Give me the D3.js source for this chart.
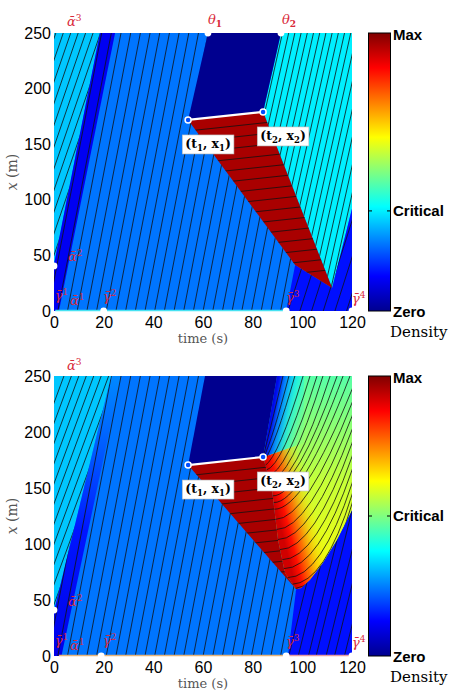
<!DOCTYPE html>
<html>
<head>
<meta charset="utf-8">
<script src="https://cdn.jsdelivr.net/npm/d3@7/dist/d3.min.js"></script>
<style>
  body { margin: 0; background: #fff; }
  svg { display: block; }
</style>
</head>
<body>
<svg id="chart"></svg>
<script>
// ---------- data (time in s, position x in m, density as a fraction of the colormap) ----------
const timeTicks = [0, 20, 40, 60, 80, 100, 120];
const posTicks = [0, 50, 100, 150, 200, 250];

// MATLAB "jet"
const jetStops = [0, 0.125, 0.375, 0.625, 0.875, 1];
const jetColors = ["#00008f", "#0000ff", "#00ffff", "#ffff00", "#ff0000", "#800000"];
const barLabels = ["Max", "Critical", "Zero"];
const criticalLevels = [0.36, 0.5]; // top bar, bottom bar

// densities of the flat regions
const freeDensity = 0.32, stripDensity = 0.11, mediumDensity = 0.24;
const navyDensity = 0, jamDensity = 0.96, cyanDensity = 0.36, blueDensity = 0.14;

// top panel regions [t, x]
const topFree = [[0, 42], [0, 250], [18.5, 250]];
const topStrip = [[0, 0], [0, 42], [18.5, 250], [24.6, 250], [2, 0]];
const topMedium = [[0, 0], [0, 42], [18.5, 250], [62, 250], [54, 171.8], [97.1, 41.4], [93.5, 0]];
const topNavy = [[62, 250], [54, 171.8], [84.2, 179], [91.4, 250]];
const topJam = [[54, 171.8], [84.2, 179], [112, 20.7], [97.1, 41.4]];
const topCyan = [[91.4, 250], [84.2, 179], [112, 20.7], [120, 92], [120, 250]];
const topBlue = [[93.5, 0], [97.1, 41.4], [112, 20.7], [120, 92], [120, 0]];

// bottom panel regions [t, x]
const botFree = [[0, 40], [0, 250], [23, 250]];
const botStrip = [[0, 0], [0, 40], [23, 250], [27, 250], [3, 0]];
const botMedium = [[0, 0], [0, 40], [23, 250], [60.8, 250], [54, 170.5], [97.5, 59.5], [94.2, 0]];
const botNavy = [[60.8, 250], [54, 170.5], [84.2, 177.7], [89.8, 250]];
const botJam = [[54, 170.5], [84.2, 177.7], [87.8, 148], [90.2, 103.6], [93, 74], [97.5, 59.5]];
const botFan = [[84.2, 177.7], [89.8, 250], [120, 250], [120, 130], [114, 103.6], [108.3, 83],
  [103.1, 67.9], [99.5, 60.5], [97.5, 59.5], [93, 74], [90.2, 103.6], [87.8, 148]];
const botBlue = [[94.2, 0], [97.5, 59.5], [99.5, 60.5], [103.1, 67.9], [108.3, 83], [114, 103.6], [120, 130], [120, 0]];
// the fan split into the part above and below the ray leaving (t2, x2)
const fanUpper = [[84.2, 177.7], [89.8, 250], [120, 250], [120, 205]];
const fanLower = [[84.2, 177.7], [120, 205], [120, 130], [114, 103.6], [108.3, 83],
  [103.1, 67.9], [99.5, 60.5], [97.5, 59.5], [93, 74], [90.2, 103.6], [87.8, 148]];

// fan colouring (bottom panel)
const fanBaseStops = [0.46, 0.57, 0.63];                 // top -> lower end of fan
const fanJamStops = [[0, 0.92, 1], [0.2, 0.86, 1], [0.45, 0.78, 0.85], [0.75, 0.7, 0.4], [1, 0.65, 0]];
// soft bands along the navy edge: [density, width px, blur px, opacity]
const fanNavyBands = [[0.36, 50, 8, 0.8], [0.24, 26, 5, 1], [0.1, 10, 2.5, 1]];

// characteristic lines: t where a line leaves x = 0 (or x at t = 54 for jam lines)
const freeStarts = [-38.5, -35.5, -32.5, -29.5, -26.5, -23.5, -20.5, -17.5, -14.5, -11.5, -8.5];
const mediumStarts = [-2.8, 1.1, 5.0, 8.9, 12.8, 16.7, 20.6, 24.5, 28.4, 32.3, 36.2, 40.1, 44, 47.9,
  51.8, 55.7, 59.6, 63.5, 67.4, 71.3, 75.2, 79.1, 83, 86.9, 90.8];
const cyanStarts = [66.5, 69, 71.5, 74, 76.5, 79, 81.5, 84, 86.5, 89, 91.5, 94, 96.5, 99, 101.5, 104, 106.5, 109];
const blueStartsTop = [88.8, 93.5, 98.3, 103, 107.7, 112.4, 117.1];
const blueStartsBot = [90, 94, 97.8, 101.9, 105, 109, 112.4, 116.4];
const jamStartsTop = [161.9, 152, 142.1, 132.2, 122.3, 112.4, 102.5, 92.6, 82.7, 72.8, 62.9, 53, 43.1, 33.2, 23.3];
const jamStartsBot = [161, 151.5, 142, 132.5, 123, 113.5, 104, 94.5, 85, 75.5, 66];
// fan curves: start, bend, end  [ts, xs, tc, xc, te, xe]
const fanCurves = [
  [84.3, 178.5, 86.8, 200, 92.2, 250], [84.4, 177, 88, 194, 94.6, 250],
  [84.6, 174, 89, 188, 97, 250], [85, 170, 90.5, 178, 100.3, 250],
  [85.5, 166, 92, 170, 103.1, 250], [86, 161, 93.5, 162, 105.9, 250],
  [86.5, 157, 95, 155, 108.3, 250], [87, 153, 96.5, 150, 111.2, 250],
  [87.6, 149, 97.5, 147, 114, 250], [88, 143, 98.5, 142, 116.4, 250],
  [88.4, 137, 99.5, 136, 119.2, 250], [88.7, 131, 100.5, 131, 120, 238],
  [89.2, 122, 101.5, 122, 120, 226], [89.7, 113, 102.5, 113, 120, 214],
  [90.2, 104, 103.5, 104, 120, 202], [91, 95, 104.5, 95, 120, 190],
  [91.9, 86, 105.5, 86, 120, 178], [92.6, 78, 106.5, 78, 120, 166],
  [94.1, 70, 107.5, 70, 120, 154], [95.8, 64, 109, 65, 120, 144],
  [96.9, 60, 111, 66, 120, 136]
];

// boundary markers, end points, labels
const topDots = [[0, 40.5], [20, 0], [93.5, 0], [62, 250], [91.4, 250], [120, 0]];
const botDots = [[0, 41], [19, 0], [93.5, 0], [120, 0]];
const topEnds = [[54, 171.8], [84.2, 179]];
const botEnds = [[54, 170.5], [84.2, 177.7]];
const endLabels = ["1", "2"];
// [base, bar, script, subscript?, t, x]
const topNotes = [["α", true, "3", false, 5.2, 256], ["θ", false, "1", true, 62, 257.7], ["θ", false, "2", true, 91.8, 257.7],
  ["γ", true, "1", false, 0.3, 9.5], ["α", true, "1", false, 6.4, 5], ["α", true, "2", false, 5.6, 45],
  ["γ", true, "2", false, 19.7, 9], ["γ", true, "3", false, 93.4, 8], ["γ", true, "4", false, 120, 7]];
const botNotes = [["α", true, "3", false, 5.2, 255.4], ["γ", true, "1", false, 0.3, 9.5], ["α", true, "1", false, 6.4, 5],
  ["α", true, "2", false, 5.6, 44.6], ["γ", true, "2", false, 19.7, 9.8], ["γ", true, "3", false, 93.4, 8.9],
  ["γ", true, "4", false, 120, 8]];

// ---------- drawing ----------
const svg = d3.select("#chart").attr("width", 452).attr("height", 692);
const defs = svg.append("defs");
const jet = d3.scaleLinear().domain(jetStops).range(jetColors).clamp(true);
const tScale = d3.scaleLinear().domain([0, 120]).range([54, 352]);
const sansFont = "'Liberation Sans', Arial, sans-serif";
const serifFont = "'DejaVu Serif', serif";

const panels = [
  { id: "top", y0: 33, y1: 311, critical: criticalLevels[0], dots: topDots, ends: topEnds, notes: topNotes,
    regions: [[topFree, freeDensity], [topStrip, stripDensity], [topCyan, cyanDensity], [topBlue, blueDensity],
      [topNavy, navyDensity], [topJam, jamDensity]],
    families: [[topFree, "fwd", 6.5, freeStarts], [topMedium, "fwd", 11.6, mediumStarts], [topCyan, "fwd", 10, cyanStarts],
      [topBlue, "fwd", 7, blueStartsTop], [topJam, "jam", 0.24, jamStartsTop]],
    edge: [[0.5, 93, "#46e2f2"]] },
  { id: "bot", y0: 376, y1: 656, critical: criticalLevels[1], dots: botDots, ends: botEnds, notes: botNotes,
    regions: [[botFree, freeDensity], [botStrip, null], [botFan, null], [botBlue, blueDensity],
      [botNavy, navyDensity], [botJam, jamDensity]],
    families: [[botFree, "fwd", 6, freeStarts], [botMedium, "fwd", 11.6, mediumStarts],
      [botBlue, "fwd", 9, blueStartsBot], [botJam, "jam", 0.24, jamStartsBot]],
    edge: [[2, 93, "#e6b47a"], [94.5, 120, "#e79aa0"]] }
];

panels.forEach(drawPanel);

function drawPanel(p) {
  const xScale = d3.scaleLinear().domain([0, 250]).range([p.y1, p.y0]);
  const px = d => [tScale(d[0]), xScale(d[1])];
  const poly = pts => pts.map(d => px(d).join(",")).join(" ");
  const line = d3.line().x(d => tScale(d[0])).y(d => xScale(d[1]));

  const g = svg.append("g");

  defs.append("clipPath").attr("id", p.id + "-plot").append("rect")
    .attr("x", tScale(0)).attr("y", p.y0)
    .attr("width", tScale(120) - tScale(0)).attr("height", p.y1 - p.y0);
  const plot = g.append("g").attr("clip-path", "url(#" + p.id + "-plot)");

  plot.append("rect")
    .attr("x", tScale(0)).attr("y", p.y0)
    .attr("width", tScale(120) - tScale(0)).attr("height", p.y1 - p.y0)
    .attr("fill", jet(mediumDensity));

  // gradient perpendicular to an edge, starting on it
  function edgeGrad(id, a, b, len, stops) {
    const A = px(a), B = px(b);
    const L = Math.hypot(B[0] - A[0], B[1] - A[1]);
    const n = [(B[1] - A[1]) / L, -(B[0] - A[0]) / L];
    const gr = defs.append("linearGradient").attr("id", id)
      .attr("gradientUnits", "userSpaceOnUse")
      .attr("x1", A[0]).attr("y1", A[1])
      .attr("x2", A[0] + n[0] * len).attr("y2", A[1] + n[1] * len);
    stops.forEach(s => gr.append("stop").attr("offset", s[0])
      .attr("stop-color", jet(s[1])).attr("stop-opacity", s[2]));
  }

  // bottom panel gradients
  if (p.id === "bot") {
    const sg = defs.append("linearGradient").attr("id", "stripGrad")
      .attr("gradientUnits", "userSpaceOnUse")
      .attr("x1", 0).attr("x2", 0).attr("y1", xScale(0)).attr("y2", xScale(250));
    sg.append("stop").attr("offset", 0).attr("stop-color", jet(0.1)).attr("stop-opacity", 1);
    sg.append("stop").attr("offset", 0.45).attr("stop-color", jet(0.13)).attr("stop-opacity", 0.85);
    sg.append("stop").attr("offset", 1).attr("stop-color", jet(0.27)).attr("stop-opacity", 0.6);

    const fb = defs.append("linearGradient").attr("id", "fanBase")
      .attr("gradientUnits", "userSpaceOnUse")
      .attr("x1", 0).attr("x2", 0).attr("y1", xScale(250)).attr("y2", xScale(60));
    fanBaseStops.forEach((d, i) => fb.append("stop")
      .attr("offset", i / (fanBaseStops.length - 1)).attr("stop-color", jet(d)));

    edgeGrad("fanJam", botJam[1], botJam[5], 38, fanJamStops);

    fanNavyBands.forEach((b, i) => {
      defs.append("filter").attr("id", "soft" + i)
        .attr("x", "-100%").attr("y", "-100%").attr("width", "300%").attr("height", "300%")
        .append("feGaussianBlur").attr("stdDeviation", b[2]);
    });
    defs.append("clipPath").attr("id", "fanUpperClip").append("polygon").attr("points", poly(fanUpper));
  }

  p.regions.forEach(r => {
    let fill = r[1] === null ? null : jet(r[1]);
    if (r[0] === botStrip) fill = "url(#stripGrad)";
    if (r[0] === botFan) fill = "url(#fanBase)";
    plot.append("polygon").attr("points", poly(r[0])).attr("fill", fill);
    if (r[0] === botFan) {
      plot.append("polygon").attr("points", poly(fanLower)).attr("fill", "url(#fanJam)");
      // soft blue -> cyan rim along the navy edge
      const A = px(botNavy[2]), B = px(botNavy[3]);
      const rim = plot.append("g").attr("clip-path", "url(#fanUpperClip)");
      fanNavyBands.forEach((b, i) => {
        rim.append("line")
          .attr("x1", A[0] - (B[0] - A[0]) * 0.3).attr("y1", A[1] - (B[1] - A[1]) * 0.3)
          .attr("x2", B[0] + (B[0] - A[0]) * 0.3).attr("y2", B[1] + (B[1] - A[1]) * 0.3)
          .attr("stroke", jet(b[0])).attr("stroke-width", b[1]).attr("stroke-opacity", b[3])
          .attr("filter", "url(#soft" + i + ")");
      });
    }
  });

  // characteristic lines, each family clipped to its region
  p.families.forEach((f, i) => {
    const cid = p.id + "-fam" + i;
    defs.append("clipPath").attr("id", cid).append("polygon").attr("points", poly(f[0]));
    const v = f[2];
    plot.append("g").attr("clip-path", "url(#" + cid + ")")
      .selectAll("path").data(f[3]).join("path")
      .attr("d", s => f[1] === "fwd"
        ? line([[s, -5], [s + 260 / v, 255]])
        : line([[30, s + v * (30 - 54)], [125, s + v * (125 - 54)]]))
      .attr("fill", "none").attr("stroke", "#111").attr("stroke-width", 0.8);
  });

  if (p.id === "bot") {
    defs.append("clipPath").attr("id", "fanClip").append("polygon").attr("points", poly(botFan));
    plot.append("g").attr("clip-path", "url(#fanClip)")
      .selectAll("path").data(fanCurves).join("path")
      .attr("d", c => {
        const S = px([c[0], c[1]]), C = px([c[2], c[3]]), E = px([c[4], c[5]]);
        const X = [E[0] + (E[0] - C[0]) * 0.3, E[1] + (E[1] - C[1]) * 0.3];
        return "M" + S + "Q" + C + " " + E + "L" + X;
      })
      .attr("fill", "none").attr("stroke", "#111").attr("stroke-width", 0.8);
  }

  // boundary condition along x = 0
  g.selectAll(".edge").data(p.edge).join("line")
    .attr("x1", d => tScale(d[0])).attr("x2", d => tScale(d[1]))
    .attr("y1", p.y1 - 0.5).attr("y2", p.y1 - 0.5)
    .attr("stroke", d => d[2]).attr("stroke-width", 1.5);

  // white boundary markers
  g.selectAll(".dot").data(p.dots).join("circle")
    .attr("cx", d => tScale(d[0])).attr("cy", d => xScale(d[1]))
    .attr("r", 3.4).attr("fill", "#fff");

  // segment between (t1,x1) and (t2,x2)
  g.append("path").attr("d", line(p.ends))
    .attr("stroke", "#fff").attr("stroke-width", 2.2).attr("fill", "none");
  g.selectAll(".end").data(p.ends).join("circle")
    .attr("cx", d => tScale(d[0])).attr("cy", d => xScale(d[1]))
    .attr("r", 3).attr("fill", jet(0.2)).attr("stroke", "#fff").attr("stroke-width", 1.5);

  // (t_i, x_i) labels in white boxes
  p.ends.forEach((d, i) => {
    const lg = g.append("g");
    const txt = lg.append("text")
      .attr("x", tScale(d[0]) + 20).attr("y", xScale(d[1]) + 28)
      .attr("text-anchor", "middle")
      .style("font-family", serifFont).style("font-size", "12.5px").style("font-weight", "bold");
    txt.append("tspan").text("(t");
    txt.append("tspan").attr("dy", 3).style("font-size", "8.5px").text(endLabels[i]);
    txt.append("tspan").attr("dy", -3).text(", x");
    txt.append("tspan").attr("dy", 3).style("font-size", "8.5px").text(endLabels[i]);
    txt.append("tspan").attr("dy", -3).text(")");
    const bb = txt.node().getBBox();
    lg.insert("rect", "text")
      .attr("x", bb.x - 3).attr("y", bb.y - 1)
      .attr("width", bb.width + 6).attr("height", bb.height + 2)
      .attr("fill", "#fff").attr("stroke", "#bbb").attr("stroke-width", 0.6);
  });

  // red annotations
  p.notes.forEach(n => {
    const txt = g.append("text")
      .attr("x", tScale(n[4])).attr("y", xScale(n[5]))
      .attr("fill", "#d92a3a")
      .style("font-family", serifFont).style("font-size", "13px").style("font-style", "italic");
    txt.append("tspan").text(n[0] + (n[1] ? "\u0304" : ""));
    txt.append("tspan").attr("dy", n[3] ? 3 : -5).style("font-size", "9px")
      .style("font-style", "normal").style("font-weight", n[3] ? "bold" : "normal").text(n[2]);
  });

  // axes
  g.append("g")
    .attr("transform", "translate(0," + p.y1 + ")")
    .call(d3.axisBottom(tScale).tickValues(timeTicks).tickSize(0).tickPadding(6))
    .attr("font-family", sansFont).attr("font-size", 16)
    .call(a => a.select(".domain").remove());
  g.append("g")
    .attr("transform", "translate(" + tScale(0) + ",0)")
    .call(d3.axisLeft(xScale).tickValues(posTicks).tickSize(0).tickPadding(3))
    .attr("font-family", sansFont).attr("font-size", 16)
    .call(a => a.select(".domain").remove());

  g.append("text")
    .attr("x", (tScale(0) + tScale(120)) / 2).attr("y", p.y1 + 32)
    .attr("text-anchor", "middle").attr("fill", "#555")
    .style("font-family", serifFont).style("font-size", "13px")
    .text("time (s)");

  const yl = g.append("text")
    .attr("transform", "translate(17," + (p.y0 + p.y1) / 2 + ") rotate(-90)")
    .attr("text-anchor", "middle").attr("fill", "#555")
    .style("font-family", serifFont).style("font-size", "14px");
  yl.append("tspan").style("font-style", "italic").text("x");
  yl.append("tspan").text(" (m)");

  // colorbar
  const barX = 368.5, barW = 22;
  const gid = p.id + "-jet";
  const grad = defs.append("linearGradient").attr("id", gid)
    .attr("x1", 0).attr("x2", 0).attr("y1", 1).attr("y2", 0);
  jetStops.forEach((s, i) => grad.append("stop").attr("offset", s).attr("stop-color", jetColors[i]));
  const barScale = d3.scaleLinear().domain([0, 1]).range([p.y1, p.y0]);
  g.append("rect")
    .attr("x", barX).attr("y", p.y0).attr("width", barW).attr("height", p.y1 - p.y0)
    .attr("fill", "url(#" + gid + ")").attr("stroke", "#000").attr("stroke-width", 1);
  const cy = barScale(p.critical);
  g.append("line").attr("x1", barX).attr("x2", barX + 3.5).attr("y1", cy).attr("y2", cy)
    .attr("stroke", "#000").attr("stroke-width", 1);
  g.append("line").attr("x1", barX + barW - 3.5).attr("x2", barX + barW).attr("y1", cy).attr("y2", cy)
    .attr("stroke", "#000").attr("stroke-width", 1);

  const labelY = [p.y0 + 6.5, cy + 5, p.y1 + 6];
  barLabels.forEach((t, i) => {
    g.append("text").attr("x", 393).attr("y", labelY[i])
      .style("font-family", sansFont).style("font-size", "15px").style("font-weight", "bold")
      .text(t);
  });
  g.append("text").attr("x", 390).attr("y", p.y1 + 26)
    .style("font-family", serifFont).style("font-size", "15px")
    .text("Density");
}
</script>
</body>
</html>
